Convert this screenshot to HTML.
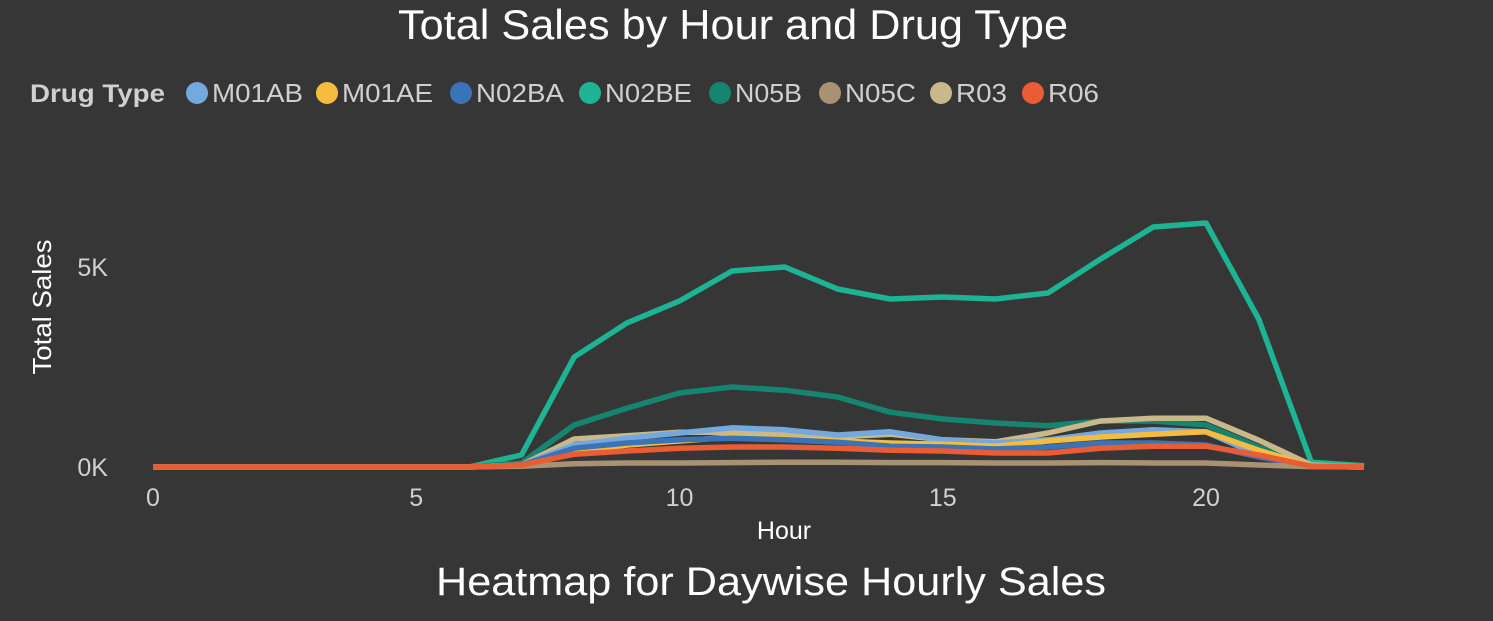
<!DOCTYPE html>
<html><head><meta charset="utf-8"><style>
body{margin:0;background:#363636;width:1493px;height:616px;overflow:hidden;font-family:"Liberation Sans",sans-serif;}
svg text{font-family:"Liberation Sans",sans-serif;}
</style></head><body>
<svg id="chart" width="1493" height="616"></svg>
<script>
const hours=[0,1,2,3,4,5,6,7,8,9,10,11,12,13,14,15,16,17,18,19,20,21,22,23];
const seriesNames=["M01AB","M01AE","N02BA","N02BE","N05B","N05C","R03","R06"];
const seriesColors=["#74a9de","#f6bc3f","#3a73b8","#1db494","#168570","#a89271","#c9b98a","#ea5c34"];
const sM01AB=[0,0,0,0,0,0,0,0.05,0.55,0.72,0.85,0.98,0.93,0.8,0.88,0.68,0.6,0.68,0.85,0.93,0.88,0.3,0.02,0];
const sM01AE=[0,0,0,0,0,0,0,0.05,0.37,0.55,0.65,0.75,0.7,0.65,0.6,0.57,0.52,0.65,0.75,0.82,0.88,0.42,0.02,0];
const sN02BA=[0,0,0,0,0,0,0,0.05,0.47,0.6,0.68,0.72,0.68,0.62,0.52,0.5,0.45,0.5,0.6,0.6,0.55,0.25,0.02,0];
const sN02BE=[0,0,0,0,0,0,0,0.3,2.75,3.6,4.15,4.9,5.0,4.45,4.2,4.25,4.2,4.35,5.2,6.0,6.1,3.7,0.12,0.03];
const sN05B=[0,0,0,0,0,0,0,0.1,1.05,1.47,1.85,2.0,1.92,1.75,1.37,1.2,1.1,1.03,1.15,1.15,1.05,0.5,0.02,0];
const sN05C=[0,0,0,0,0,0,0,0.02,0.08,0.1,0.1,0.11,0.12,0.12,0.11,0.11,0.1,0.1,0.11,0.1,0.1,0.05,0.01,0];
const sR03=[0,0,0,0,0,0,0,0.05,0.7,0.78,0.87,0.87,0.82,0.75,0.82,0.68,0.63,0.85,1.15,1.22,1.22,0.67,0.05,0];
const sR06=[0,0,0,0,0,0,0,0.05,0.32,0.4,0.47,0.5,0.5,0.47,0.42,0.4,0.35,0.35,0.47,0.52,0.52,0.3,0.02,0];
const allSeries=[sM01AB,sM01AE,sN02BA,sN02BE,sN05B,sN05C,sR03,sR06];
const xTicks=[0,5,10,15,20];
const yTicks=[0,5];
const yTickLabels=["0K","5K"];

const NS="http://www.w3.org/2000/svg";
const svg=document.getElementById('chart');
const X=h=>153+h*(1206-153)/20;
const Y=v=>467-v*40;
function mk(tag,attrs,txt){const e=document.createElementNS(NS,tag);for(const k in attrs)e.setAttribute(k,attrs[k]);if(txt!=null)e.textContent=txt;svg.appendChild(e);return e;}

let t=mk('text',{x:398,y:39,'font-size':42,fill:'#fff',textLength:670,lengthAdjust:'spacingAndGlyphs'},'Total Sales by Hour and Drug Type');



t=mk('text',{x:30,y:102,'font-size':25,'font-weight':'bold',fill:'#d0d0d0',textLength:135,lengthAdjust:'spacingAndGlyphs'},'Drug Type');


const legX=[197,327,461,590,720,830,941,1033];
const legW=[91,91,88,87,67,71,51,51];
seriesNames.forEach((n,i)=>{
  const c=mk('circle',{cx:legX[i],cy:93,r:11,fill:seriesColors[i]});
  
  
  const tx=mk('text',{x:legX[i]+15,y:102,'font-size':26,fill:'#d0d0d0',textLength:legW[i],lengthAdjust:'spacingAndGlyphs'},n);
  
  
});

yTicks.forEach((v,i)=>{
  const tx=mk('text',{x:108,y:Y(v)+9,'text-anchor':'end','font-size':25,fill:'#d0d0d0'},yTickLabels[i]);
  
  
});
xTicks.forEach(h=>{
  const tx=mk('text',{x:X(h),y:506,'text-anchor':'middle','font-size':25,fill:'#d0d0d0'},String(h));
  
  
});
t=mk('text',{x:784,y:539,'text-anchor':'middle','font-size':25,fill:'#fff'},'Hour');


t=mk('text',{x:0,y:0,'text-anchor':'middle','font-size':26,fill:'#fff',transform:'translate(51,307) rotate(-90)',textLength:135,lengthAdjust:'spacingAndGlyphs'},'Total Sales');



const order=[3,4,6,0,1,2,5,7];
order.forEach(i=>{
  const d=allSeries[i].map((v,k)=>(k?'L':'M')+X(hours[k]).toFixed(1)+' '+Y(v).toFixed(1)).join(' ');
  const p=mk('path',{d:d,fill:'none',stroke:seriesColors[i],'stroke-width':5.5,'stroke-linejoin':'round'});
  
  
});

t=mk('text',{x:436,y:595,'font-size':40,fill:'#fff',textLength:670,lengthAdjust:'spacingAndGlyphs'},'Heatmap for Daywise Hourly Sales');


</script>
</body></html>
